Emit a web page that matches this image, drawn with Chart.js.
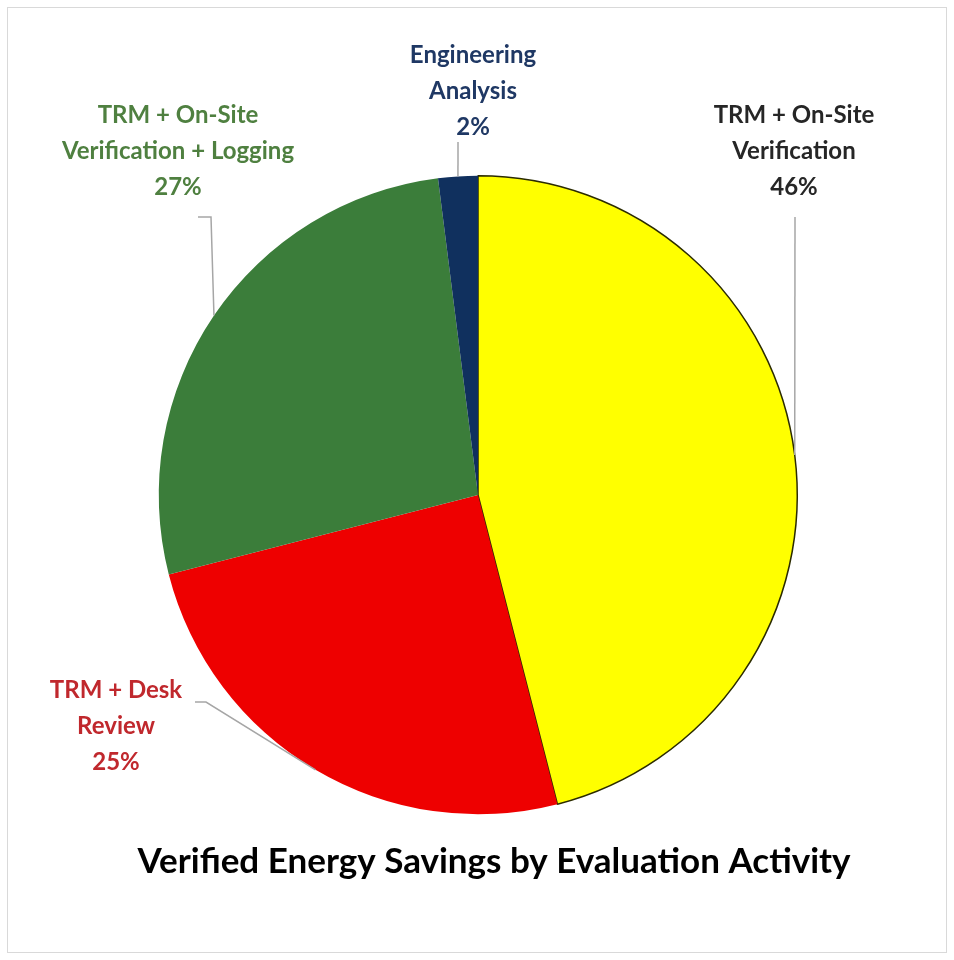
<!DOCTYPE html>
<html lang="en">
<head>
    <meta charset="UTF-8">
    <title>Verified Energy Savings by Evaluation Activity</title>
    <style>
        body { margin: 0; background: #fff; }
        #wrap { width: 954px; height: 960px; }
    </style>
</head>
<body>
    <div id="wrap"><canvas id="chart" width="954" height="960"></canvas></div>

    <script src="https://cdn.jsdelivr.net/npm/chart.js"></script>
    <script>
        // data
        const categories = ['TRM + On-Site Verification', 'TRM + Desk Review', 'TRM + On-Site Verification + Logging', 'Engineering Analysis'];
        const shares = [46, 25, 27, 2];
        const labelLines = [
            ['TRM + On-Site', 'Verification'],
            ['TRM + Desk', 'Review'],
            ['TRM + On-Site', 'Verification + Logging'],
            ['Engineering', 'Analysis']
        ];
        const chartTitle = 'Verified Energy Savings by Evaluation Activity';

        // look
        const sliceColors = ['#ffff00', '#ee0000', '#3b7d3a', '#10305e'];
        const textColors = ['#262626', '#c0282d', '#4f8040', '#1f3864'];
        const FONT = 'Lato, "Open Sans", sans-serif';

        // where each label sits (centre x, first line y) and where its leader line starts
        const labelPos = [
            { x: 794, y: 115, from: [[795, 217]] },
            { x: 116, y: 690, from: [[195, 702], [206, 702]] },
            { x: 178, y: 115, from: [[198, 217], [211, 217]] },
            { x: 473, y: 55,  from: [[458, 142]] }
        ];

        const labelsPlugin = {
            id: 'pieLabels',
            beforeDraw(chart) {
                const c = chart.ctx;
                c.save();
                c.strokeStyle = '#d9d9d9';
                c.lineWidth = 1;
                c.strokeRect(7.5, 7.5, 939, 945);
                c.restore();
            },
            afterDraw(chart) {
                const c = chart.ctx;
                const meta = chart.getDatasetMeta(0);
                c.save();
                meta.data.forEach((el, i) => {
                    const p = el.getProps(['x', 'y', 'startAngle', 'endAngle', 'outerRadius'], true);
                    const mid = (p.startAngle + p.endAngle) / 2;
                    const ex = p.x + Math.cos(mid) * p.outerRadius;
                    const ey = p.y + Math.sin(mid) * p.outerRadius;
                    const pos = labelPos[i];

                    // leader line
                    c.strokeStyle = '#a6a6a6';
                    c.lineWidth = 1.5;
                    c.beginPath();
                    pos.from.forEach((pt, k) => k === 0 ? c.moveTo(pt[0], pt[1]) : c.lineTo(pt[0], pt[1]));
                    c.lineTo(ex, ey);
                    c.stroke();

                    // label text
                    const lines = labelLines[i].concat([shares[i] + '%']);
                    c.fillStyle = textColors[i];
                    c.font = 'bold 24px ' + FONT;
                    c.textAlign = 'center';
                    c.textBaseline = 'middle';
                    lines.forEach((t, k) => c.fillText(t, pos.x, pos.y + k * 36));
                });

                // title
                c.fillStyle = '#000';
                c.font = 'bold 35px ' + FONT;
                c.textAlign = 'center';
                c.textBaseline = 'middle';
                c.fillText(chartTitle, 494, 862);
                c.restore();
            }
        };

        new Chart(document.getElementById('chart'), {
            type: 'pie',
            data: {
                labels: categories,
                datasets: [{
                    data: shares,
                    backgroundColor: sliceColors,
                    borderColor: ['#2b2b00', '#ee0000', '#3b7d3a', '#10305e'],
                    borderWidth: [1.5, 0, 0, 0]
                }]
            },
            options: {
                responsive: false,
                animation: false,
                layout: { padding: { left: 158, right: 156, top: 175, bottom: 145 } },
                plugins: {
                    legend: { display: false },
                    tooltip: { enabled: false }
                }
            },
            plugins: [labelsPlugin]
        });
    </script>
</body>
</html>
